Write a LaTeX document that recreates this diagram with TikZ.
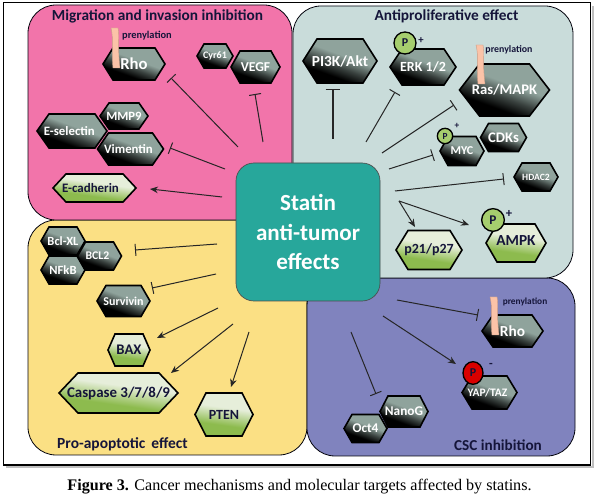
\documentclass[tikz,border=0pt]{standalone}
\usepackage{fontspec}
\setmainfont{Carlito}
\newfontfamily\capfont{Liberation Serif}
\usetikzlibrary{arrows.meta,shapes.geometric}
\definecolor{pinkp}{HTML}{F274AA}
\definecolor{bluep}{HTML}{C9DCDA}
\definecolor{yellowp}{HTML}{FBE084}
\definecolor{purplep}{HTML}{8083BE}
\definecolor{tealc}{HTML}{27A79B}
\definecolor{navyt}{HTML}{15153A}
\definecolor{prenyl}{HTML}{FBC3A8}
\definecolor{pgreen}{HTML}{A6CE6E}
\definecolor{hd}{HTML}{8FA39C}
\definecolor{hl}{HTML}{E6EEDA}
\definecolor{hg}{HTML}{8DBB4E}
\pgfdeclareverticalshading{hexdark}{100bp}{color(0bp)=(black); color(34bp)=(black); color(44bp)=(hd!40!black); color(56bp)=(hd); color(100bp)=(hd)}
\pgfdeclareverticalshading{hexlight}{100bp}{color(0bp)=(hg); color(38bp)=(hg); color(58bp)=(hl); color(100bp)=(hl)}
\tikzset{
  x=0.75pt,y=-0.75pt,
  panel/.style={draw=black!75!navyt,line width=0.6pt,rounded corners=21pt},
  darkhex/.style={draw=black,line width=1.2pt,line join=miter,shading=hexdark,shading angle=-20},
  lighthex/.style={draw=black,line width=1.2pt,line join=miter,shading=hexlight,shading angle=-8},
  hexlabel/.style={inner sep=0pt,font=\bfseries\fontsize{#1}{#1}\selectfont},
  dlabel/.style={hexlabel=#1,text=white},
  llabel/.style={hexlabel=#1,text=navyt},
  title/.style={inner sep=0pt,text=navyt,font=\bfseries\fontsize{#1}{#1}\selectfont},
  inhibit/.style={draw=black!85,line width=0.75pt,-{Bar[width=9pt,line width=0.75pt]}},
  activate/.style={draw=black!85,line width=0.75pt,-{Stealth[length=6pt,width=5pt]}},
  phos/.style={draw=black,line width=1pt,fill=#1,inner sep=0pt},
  prenylbar/.style={draw=prenyl!80!black,line width=0.3pt,fill=prenyl},
}
% name, cx, cy, half width, half height, inset, hex style, label style, text
\newcommand{\hexn}[9]{%
  \path[#7] (#2-#4,#3) -- (#2-#4+#6,#3-#5) -- (#2+#4-#6,#3-#5) -- (#2+#4,#3) -- (#2+#4-#6,#3+#5) -- (#2-#4+#6,#3+#5) -- cycle;
  \node[#8] (#1) at (#2,#3) {#9};}
% left x, top y, bottom y
\newcommand{\prenylbar}[3]{%
  \path[prenylbar] (#1,#2) -- (#1+7,#2) .. controls (#1+9,#2+10) and (#1+6,#3-25) .. (#1+9,#3) -- (#1+2,#3) .. controls (#1,#3-20) and (#1+3,#2+12) .. cycle;}
\begin{document}
\begin{tikzpicture}
\useasboundingbox (0,0) rectangle (596,498);
\fill[white] (0,0) rectangle (596,498);
% frame
\draw[black!25,line width=1.8pt] (6,467) -- (593,467) -- (593,6);
\draw[black,line width=0.8pt,fill=white] (3.5,2.5) rectangle (590.5,465);
% panels
\draw[panel,fill=yellowp] (28,220) rectangle (307,455);
\draw[panel,fill=purplep] (307,278) rectangle (575,456);
\draw[panel,fill=bluep] (293,6) rectangle (573,278);
\draw[panel,fill=pinkp] (28,5) rectangle (292,220);
% centre
\node[draw=black!70,line width=0.5pt,fill=tealc,rounded corners=13.5pt,minimum width=108pt,minimum height=103.5pt,inner sep=0pt,align=center,text=white,font=\bfseries\fontsize{17.3}{22}\selectfont] (centre) at (308,232) {Statin\\anti-tumor\\effects};
% titles
\node[title=11.5] (t1) at (157.5,16) {Migration and invasion inhibition};
\node[title=11.5] (t2) at (446.5,16) {Antiproliferative effect};
\node[title=11.6] (t3) at (122.5,444) {Pro-apoptotic\, effect};
\node[title=11.4] (t4) at (498,445) {CSC inhibition};
% pink panel
\hexn{rhoa}{134}{64}{31}{16}{10}{darkhex}{dlabel=12.5}{Rho}
\prenylbar{111}{28}{68}
\node[title=7.8] (pa) at (147,36) {prenylation};
\hexn{cyr}{215}{56}{18}{12}{7}{darkhex}{dlabel=7.5}{Cyr61}
\hexn{vegf}{255.5}{67}{24.5}{16}{9}{darkhex}{dlabel=10.2}{VEGF}
\hexn{mmp}{124}{116}{24}{13}{9}{darkhex}{dlabel=9.5}{MMP9}
\hexn{esel}{72}{131}{35}{17}{12}{darkhex}{dlabel=9.6,xshift=-2pt}{E-selectin}
\hexn{vim}{130.5}{149}{33}{16}{11}{darkhex}{dlabel=9.6,xshift=-1.5pt}{Vimentin}
\hexn{ecad}{94.5}{188}{41.5}{14}{13}{lighthex}{llabel=9.7,xshift=-3pt}{E-cadherin}
% blue panel
\hexn{pi3k}{340}{61}{37}{22}{14}{darkhex}{dlabel=11.5}{PI3K/Akt}
\hexn{erk}{423}{67}{33}{18}{12}{darkhex}{dlabel=10.5}{ERK 1/2}
\node[phos=pgreen,circle,minimum size=16.5pt,font=\bfseries\fontsize{9}{9}\selectfont,text=navyt] (perk) at (405,43) {P};
\node[title=8] (pperk) at (421,41) {+};
\hexn{ras}{504.5}{90}{45}{26}{20}{darkhex}{dlabel=11}{\raisebox{-1pt}{Ras/MAPK}}
\prenylbar{476}{45}{84}
\node[title=7.4] (pb) at (509,50) {prenylation};
\hexn{myc}{462}{151}{22}{14.5}{8}{darkhex}{dlabel=9}{MYC}
\node[phos=pgreen,circle,minimum size=11.5pt,font=\bfseries\fontsize{7}{7}\selectfont,text=navyt] (pmyc) at (445,136) {P};
\node[title=7] (ppmyc) at (457,126) {+};
\hexn{cdk}{503.5}{137.5}{23}{14}{8}{darkhex}{dlabel=11}{CDKs}
\hexn{hdac}{536}{177}{22}{14}{8}{darkhex}{dlabel=7.2}{HDAC2}
\hexn{p21}{429}{250}{33}{19.5}{12}{lighthex}{llabel=10.5}{p21/p27}
\hexn{ampk}{516}{243}{30}{19}{11}{lighthex}{llabel=11.5,yshift=1.5pt}{AMPK}
\node[phos=pgreen,circle,minimum size=17pt,font=\bfseries\fontsize{10}{10}\selectfont,text=navyt] (pampk) at (493,220) {P};
\node[title=9.5] (ppampk) at (509,214) {+};
% yellow panel
\hexn{bcl}{63}{241}{22}{14}{8}{darkhex}{dlabel=9.4}{Bcl-XL}
\hexn{nfk}{63}{270}{22}{14}{8}{darkhex}{dlabel=9.4}{NFkB}
\hexn{bcltwo}{99.5}{256}{22}{14}{8}{darkhex}{dlabel=8.8,xshift=-1.5pt}{BCL2}
\hexn{surv}{123.5}{301}{26.5}{15.5}{9}{darkhex}{dlabel=9}{Survivin}
\hexn{bax}{129}{350}{21}{16}{7}{lighthex}{llabel=11}{BAX}
\hexn{casp}{118.5}{393}{59.5}{20}{19}{lighthex}{llabel=11.2}{Caspase 3/7/8/9}
\hexn{pten}{224}{414.5}{29}{21.5}{11}{lighthex}{llabel=10.5}{PTEN}
% purple panel
\hexn{rhob}{512.5}{331}{30.5}{16}{11}{darkhex}{dlabel=11.5}{Rho}
\prenylbar{490}{297}{335}
\node[title=7] (pc) at (525,302) {prenylation};
\hexn{yap}{489.5}{392.5}{27.5}{16.5}{10}{darkhex}{dlabel=8.6,xshift=-1.5pt}{YAP/TAZ}
\node[phos=red!85!black,ellipse,minimum width=15pt,minimum height=17pt,font=\bfseries\fontsize{9}{9}\selectfont,text=navyt] (pyap) at (473,373) {P};
\node[title=9] (ppyap) at (491,365) {-};
\hexn{nano}{404}{411.5}{24}{15.5}{8}{darkhex}{dlabel=10}{NanoG}
\hexn{oct}{365.5}{428.5}{21.5}{14}{8}{darkhex}{dlabel=10}{Oct4}
% connector ends
\foreach \n/\x/\y in {
  a1/238/147,a2/171/78,b1/263/142,b2/255/94,c1/225/169,c2/170/148,d1/222/197,d2/150/189,
  e1/333/139,e2/333/89,f1/366/142,f2/395/92,g1/382/153,g2/454/105,h1/389/169,h2/433/155,
  i1/395/191,i2/504/179,j1/399/201,j2/415/227,k2/469/225,
  l1/217/244,l2/135/250,m1/216/274,m2/152/288,n1/218/308,n2/157/338,o1/233/324,o2/171/373,q1/249/332,q2/231/387,
  r1/397/300,r2/478/315,s1/383/316,s2/456/364,u1/351/332,u2/376/394}
  {\coordinate (\n) at (\x,\y);}
\draw[inhibit] (a1) -- (a2);
\draw[inhibit] (b1) -- (b2);
\draw[inhibit] (c1) -- (c2);
\draw[activate] (d1) -- (d2);
\draw[inhibit,line width=1.1pt,-{Bar[width=11pt,line width=1.1pt]}] (e1) -- (e2);
\draw[inhibit] (f1) -- (f2);
\draw[inhibit] (g1) -- (g2);
\draw[inhibit] (h1) -- (h2);
\draw[inhibit] (i1) -- (i2);
\draw[activate] (j1) -- (j2);
\draw[activate] (j1) -- (k2);
\draw[inhibit] (l1) -- (l2);
\draw[inhibit] (m1) -- (m2);
\draw[activate] (n1) -- (n2);
\draw[activate] (o1) -- (o2);
\draw[activate] (q1) -- (q2);
\draw[inhibit] (r1) -- (r2);
\draw[activate] (s1) -- (s2);
\draw[inhibit] (u1) -- (u2);
% caption
\node[inner sep=0pt,anchor=base,font=\capfont\fontsize{12.1}{13}\selectfont] (cap) at (299.5,491) {\textbf{Figure 3.} Cancer mechanisms and molecular targets affected by statins.};
\end{tikzpicture}
\end{document}
